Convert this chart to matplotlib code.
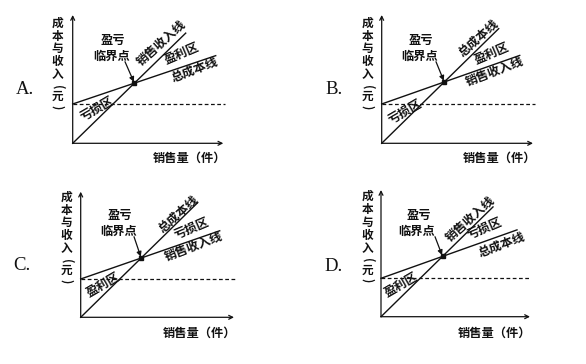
import matplotlib.pyplot as plt
import numpy as np

plt.rcParams["font.family"] = ["Noto Sans CJK SC", "DejaVu Sans"]

# four options of the break-even diagram
panel_names = ["A.", "B.", "C.", "D."]
fixed_cost = [39.3, 39.3, 38.3, 38.4]
flat_slope = [0.338, 0.352, 0.347, 0.356]
flat_end = [143, 138, 139, 136]
steep_slope = [0.975, 0.98, 0.98, 0.98]
steep_end = [113, 117, 117, 112]
x_axis_len = [150.6, 151.3, 153.3, 149]
y_axis_len = [128.3, 128.3, 125.6, 126.7]
dash_end = [152.3, 153.3, 154.3, 149]

# labels: line through origin, line from fixed cost, zone between, zone below
steep_labels = ["销售收入线", "总成本线", "总成本线", "销售收入线"]
flat_labels = ["总成本线", "销售收入线", "销售收入线", "总成本线"]
upper_zone = ["盈利区", "盈利区", "亏损区", "亏损区"]
lower_zone = ["亏损区", "亏损区", "盈利区", "盈利区"]
y_label_chars = ["成", "本", "与", "收", "入", "(", "元", ")"]
y_label_rot = [0, 0, 0, 0, 0, 270, 0, 270]
x_label = "销售量（件）"
point_label = ["盈亏", "临界点"]

# layout (pixels, relative to each panel origin)
origins = [(72.7, 143.3), (381.7, 143.3), (80.7, 317.3), (381, 316.7)]
steep_pos = [(89, 100), (96.6, 105), (97.6, 103.3), (89.7, 97.4)]
upper_pos = [(109, 90), (110, 90), (111, 89), (104, 88.4)]
flat_pos = [(122.3, 73.3), (113.3, 71.6), (112.6, 70.6), (120.7, 71.7)]
lower_pos = [(24, 35), (23.3, 31.6), (22.6, 32.3), (20.7, 31.7)]
point_pos = [(40, 103.3), (39, 103.3), (39, 102.3), (37.5, 101.7)]
tail_pos = [(52.3, 81.6), (54.3, 81.6), (53.3, 80.6), (54, 80)]
letter_pos = [(-47.7, 54.3), (-47.7, 54.3), (-58.7, 52.3), (-47, 50)]
xlab_pos = [(116.5, -15), (117.5, -15), (118.5, -16), (114, -16.6)]
ylab_x = [-15.2, -14.2, -14, -13.5]
ylab_y = [120, 106.8, 94.5, 81.6, 68.5, 56.6, 46.6, 36.6]

W, H = 586, 364
fig = plt.figure(figsize=(W / 100, H / 100), dpi=100)
fig.patch.set_facecolor("white")

ink = "#111111"
fs = 8.8

for i in range(4):
    ox, oy = origins[i]
    x0, x1, y0, y1 = -65, 165, -25, 140
    ax = fig.add_axes([(ox + x0) / W, (H - oy - (-y0)) / H, (x1 - x0) / W, (y1 - y0) / H])
    ax.set_xlim(x0, x1)
    ax.set_ylim(y0, y1)
    ax.axis("off")
    ax.patch.set_alpha(0)

    # axes with arrows
    ax.annotate("", xy=(x_axis_len[i], 0), xytext=(0, 0),
                arrowprops=dict(arrowstyle="->", lw=0.9, color=ink,
                                shrinkA=0, shrinkB=0, mutation_scale=7))
    ax.annotate("", xy=(0, y_axis_len[i]), xytext=(0, 0),
                arrowprops=dict(arrowstyle="->", lw=0.9, color=ink,
                                shrinkA=0, shrinkB=0, mutation_scale=7))

    # fixed cost dashed line
    ax.plot([0, dash_end[i]], [fixed_cost[i], fixed_cost[i]], color=ink,
            lw=0.9, dashes=(3, 2))

    # the two lines
    xs = np.array([0, steep_end[i]])
    ax.plot(xs, steep_slope[i] * xs, color=ink, lw=1.0)
    xf = np.array([0, flat_end[i]])
    ax.plot(xf, fixed_cost[i] + flat_slope[i] * xf, color=ink, lw=1.0)

    # break-even point
    bx = fixed_cost[i] / (steep_slope[i] - flat_slope[i])
    by = steep_slope[i] * bx
    ax.plot([bx], [by], marker="s", ms=3.2, color=ink)
    ax.annotate("", xy=(bx, by), xytext=tail_pos[i],
                arrowprops=dict(arrowstyle="-|>", lw=0.9, color=ink,
                                shrinkA=0, shrinkB=1, mutation_scale=7))
    px, py = point_pos[i]
    ax.text(px, py, point_label[0], ha="center", va="center", fontsize=fs,
            fontweight="bold", color=ink)
    ax.text(px - 1.5, py - 16.7, point_label[1], ha="center", va="center",
            fontsize=fs, fontweight="bold", color=ink)

    # line and zone labels
    ax.text(*steep_pos[i], steep_labels[i], rotation=42, ha="center", va="center",
            rotation_mode="anchor", fontsize=fs, fontweight="bold", color=ink)
    ax.text(*upper_pos[i], upper_zone[i], rotation=23, ha="center", va="center",
            rotation_mode="anchor", fontsize=fs, fontweight="bold", color=ink)
    ax.text(*flat_pos[i], flat_labels[i], rotation=21, ha="center", va="center",
            rotation_mode="anchor", fontsize=fs, fontweight="bold", color=ink)
    ax.text(*lower_pos[i], lower_zone[i], rotation=30, ha="center", va="center",
            rotation_mode="anchor", fontsize=fs, fontweight="bold", color=ink)

    # axis titles
    ax.text(*xlab_pos[i], x_label, ha="center", va="center", fontsize=fs,
            fontweight="bold", color=ink)
    for ch, yy, rot in zip(y_label_chars, ylab_y, y_label_rot):
        ax.text(ylab_x[i], yy, ch, ha="center", va="center", fontsize=8.4,
                rotation=rot, rotation_mode="anchor", fontweight="bold", color=ink)

    # option letter
    ax.text(*letter_pos[i], panel_names[i], ha="center", va="center",
            fontsize=13.5, family="Liberation Serif", color=ink)

fig.savefig("out.png", dpi=100, facecolor="white")
